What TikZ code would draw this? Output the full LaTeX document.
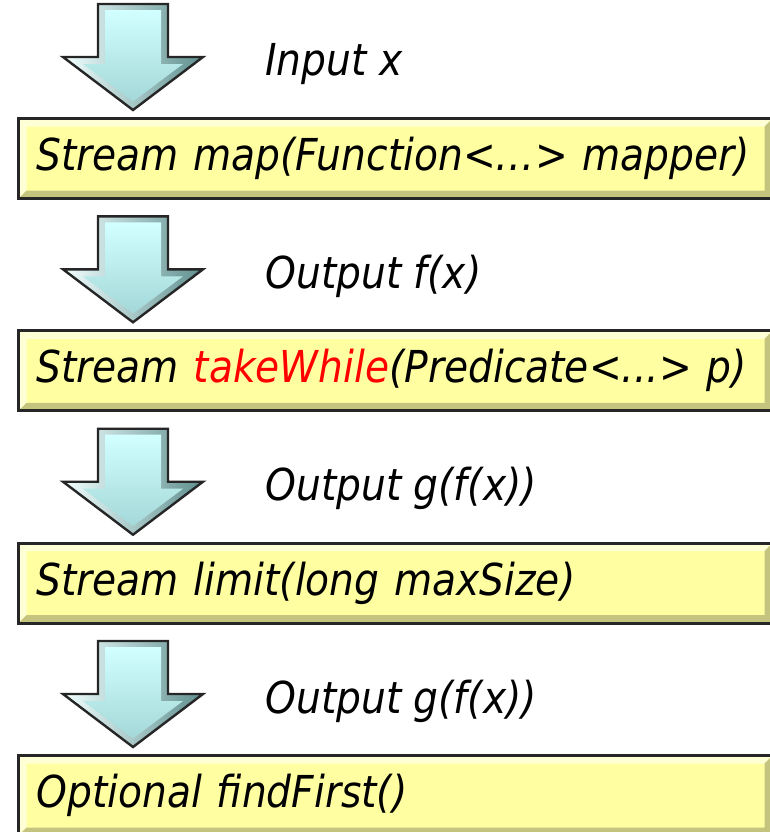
\documentclass[tikz,border=0pt]{standalone}
\usepackage{fontspec}
\setmainfont{DejaVu Sans}[FakeStretch=0.89]
\usepackage{tikz}
\usetikzlibrary{calc}

\definecolor{boxface}{HTML}{FFFFA2}
\definecolor{boxhi}{HTML}{FFFFD6}
\definecolor{boxlo}{HTML}{C4C47E}
\definecolor{arrowface}{HTML}{D2FFFF}
\definecolor{arrowdeep}{HTML}{A4D8D8}
\definecolor{arrowhi}{HTML}{F2FFFF}
\definecolor{arrowlo}{HTML}{5F8F8F}

\tikzset{
    stage/.style={anchor=north west, draw=black!85, line width=1.5pt, fill=boxface,
        minimum height=40pt, text width=359pt, inner xsep=9pt, align=left,
        font=\fontsize{22pt}{26pt}\selectfont\itshape,
        path picture={
            \fill [boxhi] (path picture bounding box.south west)
                -- (path picture bounding box.north west)
                -- (path picture bounding box.north east)
                -- ([shift={(-4pt,-4pt)}]path picture bounding box.north east)
                -- ([shift={(4pt,-4pt)}]path picture bounding box.north west)
                -- ([shift={(4pt,4pt)}]path picture bounding box.south west) -- cycle;
            \fill [boxlo] (path picture bounding box.south west)
                -- (path picture bounding box.south east)
                -- (path picture bounding box.north east)
                -- ([shift={(-4pt,-4pt)}]path picture bounding box.north east)
                -- ([shift={(-4pt,4pt)}]path picture bounding box.south east)
                -- ([shift={(4pt,4pt)}]path picture bounding box.south west) -- cycle;
        }},
    output/.style={anchor=base west, inner sep=0pt, font=\fontsize{22pt}{26pt}\selectfont\itshape},
    flowarrow/.pic={
        \path [left color=arrowhi, right color=arrowlo]
            (-35,-106) -- (35,-106) -- (35,-53) -- (70,-53) -- (0,0) -- (-70,-53) -- (-35,-53) -- cycle;
        \path [top color=arrowface, bottom color=arrowdeep]
            (-28,-100) -- (28,-100) -- (28,-46) -- (50,-46) -- (0,-8.5) -- (-50,-46) -- (-28,-46) -- cycle;
        \draw [line width=1.2pt, black!85]
            (-35,-106) -- (35,-106) -- (35,-53) -- (70,-53) -- (0,0) -- (-70,-53) -- (-35,-53) -- cycle;
    }
}

\begin{document}
\begin{tikzpicture}[x=0.5pt, y=-0.5pt]
        \useasboundingbox (0, 0) rectangle (770, 832);
        \clip (0, 0) rectangle (770, 832);
        % pipeline stages
        \node [stage] (map) at (17, 117) {Stream map(Function<…> mapper)};
        \node [stage] (takewhile) at (17, 329.3) {Stream \textcolor{red}{takeWhile}(Predicate<...> p)};
        \node [stage] (limit) at (17, 541.7) {Stream limit(long maxSize)};
        \node [stage] (findfirst) at (17, 754) {Optional findFirst()};
        % arrows into each stage
        \pic at ($(map.north west)+(116,-7)$) {flowarrow};
        \pic at ($(takewhile.north west)+(116,-7)$) {flowarrow};
        \pic at ($(limit.north west)+(116,-7)$) {flowarrow};
        \pic at ($(findfirst.north west)+(116,-7)$) {flowarrow};
        % what flows along each arrow
        \node [output] (inx) at (265, 75) {Input x};
        \node [output] (outf) at (265, 288) {Output f(x)};
        \node [output] (outgf) at (265, 500) {Output g(f(x))};
        \node [output] (outgf2) at (265, 713) {Output g(f(x))};
    \end{tikzpicture}
\end{document}
